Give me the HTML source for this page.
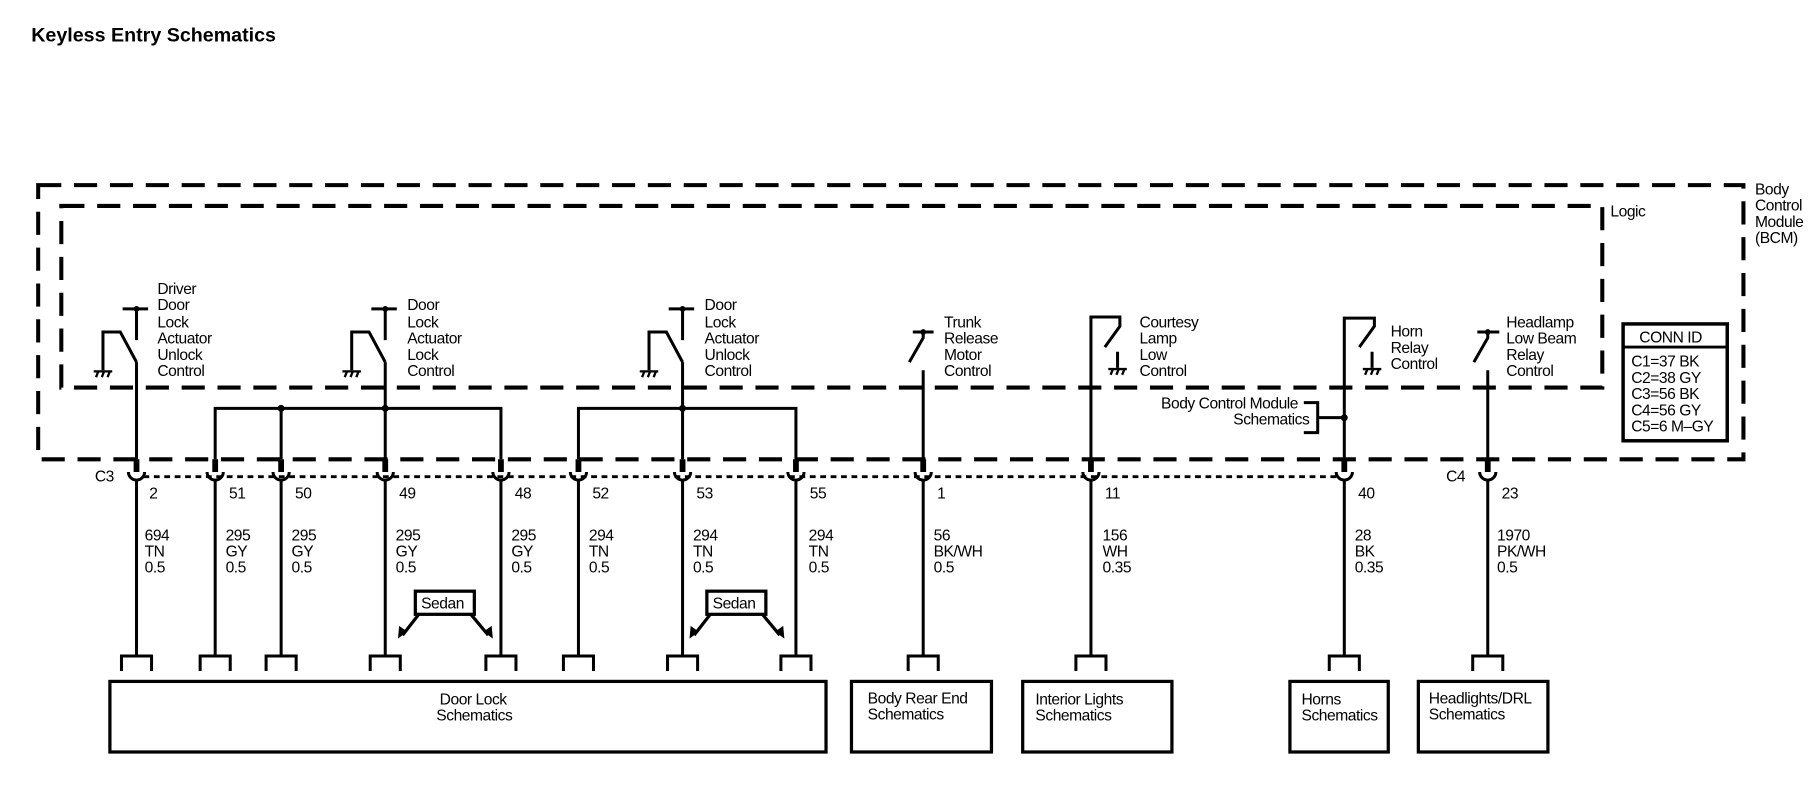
<!DOCTYPE html>
<html><head><meta charset="utf-8"><style>
html,body{margin:0;padding:0;background:#fff;}
svg{display:block;}
text{font-family:"Liberation Sans",sans-serif;font-size:13.5px;fill:#000;letter-spacing:-0.4px;}
</style></head><body>
<svg width="1814" height="800" viewBox="0 0 1568 691.5" preserveAspectRatio="none" xmlns="http://www.w3.org/2000/svg">
<text x="27" y="36" style="font-size:17px;font-weight:bold;letter-spacing:0">Keyless Entry Schematics</text>
<g fill="none" stroke="#000" stroke-width="3.5" stroke-dasharray="20 11">
<rect x="33" y="160" width="1474" height="237"/>
<rect x="53" y="178" width="1332" height="157"/>
</g>
<text x="1392" y="187">Logic</text>
<text x="1517" y="168">Body</text><text x="1517" y="182">Control</text><text x="1517" y="196">Module</text><text x="1517" y="210">(BCM)</text>
<rect x="1403" y="280" width="90" height="101" fill="none" stroke="#000" stroke-width="3"/>
<line x1="1403" y1="300" x2="1493" y2="300" stroke="#000" stroke-width="2.5"/>
<text x="1417" y="296">CONN ID</text>
<text x="1410" y="317">C1=37 BK</text><text x="1410" y="331">C2=38 GY</text><text x="1410" y="345">C3=56 BK</text><text x="1410" y="359">C4=56 GY</text><text x="1410" y="373">C5=6 M–GY</text>

<g stroke="#000" stroke-width="2.6" fill="none">
<!-- type A switches -->
<path d="M106,267H128M118,267V294M118,313L104,287H89V320M118,313V397"/>
<path d="M321,267H343M333,267V294M333,313L319,287H304V320M333,313V397"/>
<path d="M578,267H600M590,267V294M590,313L576,287H561V320M590,313V397"/>
<!-- trunk / headlamp -->
<path d="M789,287H807M798,287V292L786,313M798,320V397"/>
<path d="M1277,287H1296M1286,287V292L1274,313M1286,320V397"/>
<!-- courtesy / horn -->
<path d="M943,397V274H968V282L955,300M966,304V318"/>
<path d="M1162,397V275H1188V282L1175,300M1186,304V318"/>
<!-- BCM bracket -->
<path d="M1127,348H1139V374H1127M1139,361H1162"/>
<!-- buses -->
<path d="M186,397V353H433V397M243,353V397"/>
<path d="M500,397V353H688V397"/>
</g>
<g fill="#000">
<circle cx="118" cy="267" r="2.5"/><circle cx="333" cy="267" r="2.5"/><circle cx="590" cy="267" r="2.5"/>
<circle cx="798" cy="287" r="2.5"/><circle cx="1286" cy="287" r="2.5"/>
<circle cx="243" cy="353" r="3"/><circle cx="333" cy="353" r="3"/><circle cx="590" cy="353" r="3"/><circle cx="1162" cy="361" r="3"/>
</g>
<!-- grounds -->
<g stroke="#000" stroke-width="2" fill="none">
<path d="M81,321H97M83,326L85,321M88,326L90,321M93,326L95,321"/>
<path d="M296,321H312M298,326L300,321M303,326L305,321M308,326L310,321"/>
<path d="M553,321H569M555,326L557,321M560,326L562,321M565,326L567,321"/>
<path d="M958,319H974M960,324L962,319M965,324L967,319M970,324L972,319"/>
<path d="M1178,319H1194M1180,324L1182,319M1185,324L1187,319M1190,324L1192,319"/>
</g>
<text x="136" y="254">Driver</text><text x="136" y="268">Door</text><text x="136" y="283">Lock</text><text x="136" y="297">Actuator</text><text x="136" y="311">Unlock</text><text x="136" y="325">Control</text>
<text x="352" y="268">Door</text><text x="352" y="283">Lock</text><text x="352" y="297">Actuator</text><text x="352" y="311">Lock</text><text x="352" y="325">Control</text>
<text x="609" y="268">Door</text><text x="609" y="283">Lock</text><text x="609" y="297">Actuator</text><text x="609" y="311">Unlock</text><text x="609" y="325">Control</text>
<text x="816" y="283">Trunk</text><text x="816" y="297">Release</text><text x="816" y="311">Motor</text><text x="816" y="325">Control</text>
<text x="985" y="283">Courtesy</text><text x="985" y="297">Lamp</text><text x="985" y="311">Low</text><text x="985" y="325">Control</text>
<text x="1202" y="291">Horn</text><text x="1202" y="305">Relay</text><text x="1202" y="319">Control</text>
<text x="1302" y="283">Headlamp</text><text x="1302" y="297">Low Beam</text><text x="1302" y="311">Relay</text><text x="1302" y="325">Control</text>
<text x="1122" y="353" text-anchor="end">Body Control Module</text><text x="1066" y="367">Schematics</text>

<!-- dotted connector line -->
<line x1="124" y1="412" x2="1156" y2="412" stroke="#000" stroke-width="2.5" stroke-dasharray="5 4"/>
<text x="82" y="416">C3</text><text x="1250" y="416">C4</text>

<g id="pins" stroke="#000" fill="none">
</g>
<g stroke="#000" fill="none">
<g stroke-width="5">
<path d="M118,397V408M186,397V408M243,397V408M333,397V408M433,397V408M500,397V408M590,397V408M688,397V408M798,397V408M943,397V408M1162,397V408M1286,397V408"/>
</g>
<g stroke-width="2.6">
<path d="M111,408A7,7 0 0 0 125,408M179,408A7,7 0 0 0 193,408M236,408A7,7 0 0 0 250,408M326,408A7,7 0 0 0 340,408M426,408A7,7 0 0 0 440,408M493,408A7,7 0 0 0 507,408M583,408A7,7 0 0 0 597,408M681,408A7,7 0 0 0 695,408M791,408A7,7 0 0 0 805,408M936,408A7,7 0 0 0 950,408M1155,408A7,7 0 0 0 1169,408M1279,408A7,7 0 0 0 1293,408"/>
<path d="M118,415V567M186,415V567M243,415V567M333,415V567M433,415V567M500,415V567M590,415V567M688,415V567M798,415V567M943,415V567M1162,415V567M1286,415V567"/>
<path d="M105,580V567H131V580M173,580V567H199V580M230,580V567H256V580M320,580V567H346V580M420,580V567H446V580M487,580V567H513V580M577,580V567H603V580M675,580V567H701V580M785,580V567H811V580M930,580V567H956V580M1149,580V567H1175V580M1273,580V567H1299V580"/>
</g>
<g stroke-width="2.8">
<rect x="95" y="589" width="619" height="61"/>
<rect x="736" y="589" width="121" height="61"/>
<rect x="884" y="589" width="129" height="61"/>
<rect x="1115" y="589" width="85" height="61"/>
<rect x="1226" y="589" width="112" height="61"/>
<rect x="359" y="511" width="51" height="20"/>
<rect x="611" y="511" width="51" height="20"/>
<path d="M362,531L348,549M407,531L422,549M614,531L600,549M659,531L674,549"/>
</g>
</g>
<g fill="#000">
<path d="M344,552L345,541L352,546Z"/><path d="M426,552L418,546L425,541Z"/>
<path d="M596,552L597,541L604,546Z"/><path d="M678,552L670,546L677,541Z"/>
</g>
<text x="364" y="526">Sedan</text><text x="616" y="526">Sedan</text>

<g>
<text x="129" y="431">2</text><text x="198" y="431">51</text><text x="255" y="431">50</text><text x="345" y="431">49</text><text x="445" y="431">48</text><text x="512" y="431">52</text><text x="602" y="431">53</text><text x="700" y="431">55</text><text x="810" y="431">1</text><text x="955" y="431">11</text><text x="1174" y="431">40</text><text x="1298" y="431">23</text>
</g>
<g>
<text x="125" y="467">694</text><text x="125" y="481">TN</text><text x="125" y="495">0.5</text>
<text x="195" y="467">295</text><text x="195" y="481">GY</text><text x="195" y="495">0.5</text>
<text x="252" y="467">295</text><text x="252" y="481">GY</text><text x="252" y="495">0.5</text>
<text x="342" y="467">295</text><text x="342" y="481">GY</text><text x="342" y="495">0.5</text>
<text x="442" y="467">295</text><text x="442" y="481">GY</text><text x="442" y="495">0.5</text>
<text x="509" y="467">294</text><text x="509" y="481">TN</text><text x="509" y="495">0.5</text>
<text x="599" y="467">294</text><text x="599" y="481">TN</text><text x="599" y="495">0.5</text>
<text x="699" y="467">294</text><text x="699" y="481">TN</text><text x="699" y="495">0.5</text>
<text x="807" y="467">56</text><text x="807" y="481">BK/WH</text><text x="807" y="495">0.5</text>
<text x="953" y="467">156</text><text x="953" y="481">WH</text><text x="953" y="495">0.35</text>
<text x="1171" y="467">28</text><text x="1171" y="481">BK</text><text x="1171" y="495">0.35</text>
<text x="1294" y="467">1970</text><text x="1294" y="481">PK/WH</text><text x="1294" y="495">0.5</text>
</g>
<text x="409" y="609" text-anchor="middle">Door Lock</text><text x="410" y="623" text-anchor="middle">Schematics</text>
<text x="750" y="608">Body Rear End</text><text x="750" y="622">Schematics</text>
<text x="895" y="609">Interior Lights</text><text x="895" y="623">Schematics</text>
<text x="1125" y="609">Horns</text><text x="1125" y="623">Schematics</text>
<text x="1235" y="608">Headlights/DRL</text><text x="1235" y="622">Schematics</text>
</svg>
</body></html>
